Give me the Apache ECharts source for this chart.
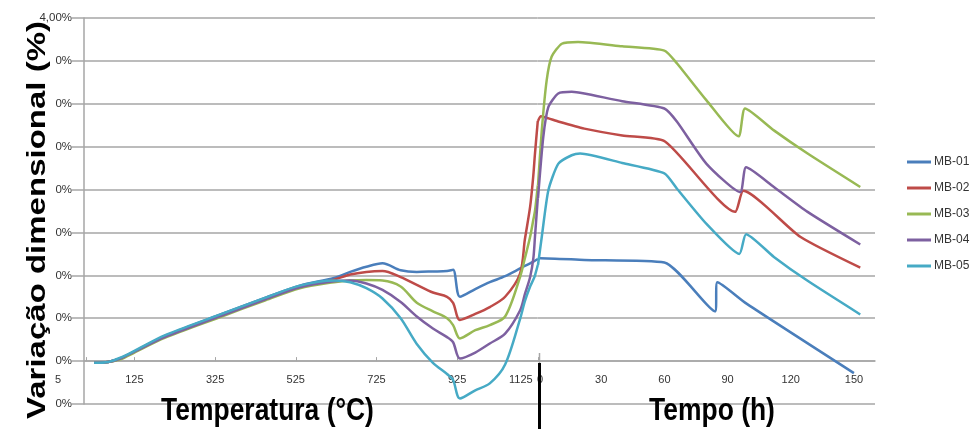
<!DOCTYPE html>
<html>
<head>
<meta charset="utf-8">
<script src="https://cdn.jsdelivr.net/npm/echarts@6/dist/echarts.min.js"></script>
<style>
html,body{margin:0;padding:0;background:#fff;}
#chart{width:970px;height:429px;}
</style>
</head>
<body>
<div id="chart"></div>
<script>
// ---- Data ----
const seriesNames = ['MB-01', 'MB-02', 'MB-03', 'MB-04', 'MB-05'];
const seriesColors = ['#4a7ebb', '#be4b48', '#98b954', '#7d60a0', '#46aac5'];

// Heating part (temperature, °C)
const tempC = [25, 60, 90, 125, 200, 330, 450, 535, 620, 660, 700, 740, 785, 825, 865, 900, 915, 932, 970, 1006, 1044, 1081, 1093, 1106, 1114, 1118, 1125];
const mb01Temp = [-0.02, -0.01, 0.03, 0.11, 0.29, 0.53, 0.74, 0.88, 0.97, 1.04, 1.10, 1.14, 1.06, 1.04, 1.045, 1.05, 1.065, 0.75, 0.84, 0.92, 0.99, 1.08, 1.11, 1.14, 1.16, 1.17, 1.19];
const mb02Temp = [-0.02, -0.01, 0.03, 0.11, 0.29, 0.52, 0.73, 0.86, 0.95, 1.01, 1.04, 1.05, 0.98, 0.89, 0.80, 0.75, 0.68, 0.48, 0.55, 0.63, 0.75, 1.02, 1.42, 1.80, 2.17, 2.42, 2.80];
const mb03Temp = [-0.02, -0.01, 0.02, 0.10, 0.27, 0.50, 0.71, 0.85, 0.92, 0.94, 0.945, 0.94, 0.87, 0.68, 0.58, 0.50, 0.42, 0.265, 0.36, 0.42, 0.52, 0.98, 1.20, 1.45, 1.65, 1.75, 2.05];
const mb04Temp = [-0.02, -0.01, 0.03, 0.11, 0.28, 0.51, 0.72, 0.86, 0.93, 0.94, 0.905, 0.83, 0.69, 0.52, 0.38, 0.28, 0.22, 0.03, 0.10, 0.205, 0.32, 0.59, 0.78, 0.98, 1.20, 1.45, 1.90];
const mb05Temp = [-0.02, -0.01, 0.04, 0.12, 0.30, 0.53, 0.74, 0.88, 0.94, 0.92, 0.85, 0.73, 0.50, 0.20, -0.02, -0.15, -0.22, -0.435, -0.34, -0.26, -0.04, 0.49, 0.70, 0.87, 0.95, 1.00, 1.12];

// Holding part (time, h)
const mb01TimeH = [0, 1, 22, 60, 84, 85.2, 99, 150];
const mb01TimeV = [1.19, 1.20, 1.18, 1.15, 0.58, 0.92, 0.67, -0.14];
const mb02TimeH = [0, 1.4, 5, 10, 22, 40, 60.3, 93.6, 97.5, 124.5, 153];
const mb02TimeV = [2.80, 2.855, 2.83, 2.79, 2.71, 2.63, 2.56, 1.74, 1.985, 1.45, 1.09];
const mb03TimeH = [0, 1.8, 4.1, 6.5, 11.3, 19, 40, 60, 66, 80, 95.2, 98.3, 112, 128, 153];
const mb03TimeV = [2.05, 2.69, 3.27, 3.55, 3.70, 3.72, 3.67, 3.62, 3.47, 3.04, 2.62, 2.945, 2.69, 2.42, 2.03];
const mb04TimeH = [0, 2.5, 4.9, 9.6, 16, 22, 40, 60, 66, 80, 96, 98.8, 112, 128, 153];
const mb04TimeV = [1.90, 2.61, 2.96, 3.12, 3.14, 3.12, 3.03, 2.945, 2.79, 2.30, 1.97, 2.26, 2.03, 1.74, 1.36];
const mb05TimeH = [0, 1.8, 4.9, 9.6, 16, 20, 40, 60, 66, 80, 95.6, 98.8, 112, 128, 153];
const mb05TimeV = [1.12, 1.45, 1.99, 2.30, 2.40, 2.42, 2.31, 2.19, 2.01, 1.60, 1.25, 1.48, 1.215, 0.936, 0.544];

// Tick labels
const tempTicks = [5, 125, 325, 525, 725, 925, 1125];
const timeTicks = [0, 30, 60, 90, 120, 150];
const yTickLabels = ['0%', '0%', '0%', '0%', '0%', '0%', '0%', '0%', '0%', '4,00%'];

// Titles
const yTitle = 'Variação dimensional (%)';
const xTitleTemp = 'Temperatura (°C)';
const xTitleTime = 'Tempo (h)';

// ---- Build ----
const tempSets = [mb01Temp, mb02Temp, mb03Temp, mb04Temp, mb05Temp];
const timeH = [mb01TimeH, mb02TimeH, mb03TimeH, mb04TimeH, mb05TimeH];
const timeV = [mb01TimeV, mb02TimeV, mb03TimeV, mb04TimeV, mb05TimeV];

const gridColor = '#a6a6a6';
const labelColor = '#333333';
const FONT = '"Liberation Sans", Arial, sans-serif';
const Y_MIN = -0.5, Y_MAX = 4, GRID_TOP = 18, GRID_H = 386;
// shift the x axes from the grid bottom up to the zero line
const zeroOffset = -GRID_H * (0 - Y_MIN) / (Y_MAX - Y_MIN);

const series = [];
seriesNames.forEach((name, i) => {
  series.push({
    name: name, type: 'line', xAxisIndex: 0, yAxisIndex: 0,
    data: tempC.map((t, k) => [t, tempSets[i][k]]),
    showSymbol: false, symbol: 'none', smooth: 0.3,
    lineStyle: { color: seriesColors[i], width: 2.5 }, itemStyle: { color: seriesColors[i] },
    z: 2 + i
  });
});
seriesNames.forEach((name, i) => {
  series.push({
    name: name, type: 'line', xAxisIndex: 1, yAxisIndex: 1,
    data: timeH[i].map((h, k) => [h, timeV[i][k]]),
    showSymbol: false, symbol: 'none', smooth: 0.2,
    lineStyle: { color: seriesColors[i], width: 2.5 }, itemStyle: { color: seriesColors[i] },
    z: 2 + i
  });
});

const yAxisBase = {
  type: 'value', min: Y_MIN, max: Y_MAX, interval: 0.5,
  splitLine: { show: true, lineStyle: { color: gridColor, width: 1.5 } }
};

const chart = echarts.init(document.getElementById('chart'), null, { renderer: 'canvas' });
chart.setOption({
  animation: false,
  backgroundColor: '#ffffff',
  grid: [
    { left: 84, top: GRID_TOP, width: 453.8, height: GRID_H },
    { left: 538, top: GRID_TOP, width: 337, height: GRID_H }
  ],
  xAxis: [
    {
      type: 'value', gridIndex: 0, min: 0, max: 1125, position: 'bottom', offset: zeroOffset,
      axisLine: { onZero: false, lineStyle: { color: gridColor, width: 1.5 } },
      axisTick: { show: true, inside: true, length: 4, customValues: tempTicks, lineStyle: { color: gridColor } },
      splitLine: { show: false },
      axisLabel: {
        customValues: tempTicks, margin: 13, color: labelColor, fontSize: 11, fontFamily: FONT,
        formatter: function (v) {
          if (v === tempTicks[0]) return '{l|' + v + '}';
          if (v === tempTicks[tempTicks.length - 1]) return '{r|' + v + '}';
          return String(v);
        },
        rich: {
          l: { padding: [0, 56, 0, 0], color: labelColor, fontSize: 11, fontFamily: FONT },
          r: { padding: [0, 34, 0, 0], color: labelColor, fontSize: 11, fontFamily: FONT }
        }
      }
    },
    {
      type: 'value', gridIndex: 1, min: 0, max: 160, position: 'bottom', offset: zeroOffset,
      axisLine: { onZero: false, lineStyle: { color: gridColor, width: 1.5 } },
      axisTick: { show: false },
      splitLine: { show: false },
      axisLabel: {
        customValues: timeTicks, margin: 13, color: labelColor, fontSize: 11, fontFamily: FONT,
        formatter: function (v) { return v === 0 ? '{z|0}' : String(v); },
        rich: { z: { padding: [0, 0, 0, 4], color: labelColor, fontSize: 11, fontFamily: FONT } }
      }
    }
  ],
  yAxis: [
    Object.assign({}, yAxisBase, {
      gridIndex: 0,
      axisLine: { show: true, onZero: false, lineStyle: { color: gridColor, width: 1.5 } },
      axisTick: { show: true, length: 12, lineStyle: { color: gridColor, width: 1.5 } },
      axisLabel: {
        margin: 12, color: labelColor, fontSize: 11.5, fontFamily: FONT,
        formatter: function (v) { return yTickLabels[Math.round((v - Y_MIN) / 0.5)]; }
      }
    }),
    Object.assign({}, yAxisBase, {
      gridIndex: 1,
      axisLine: { show: false }, axisTick: { show: false }, axisLabel: { show: false }
    })
  ],
  legend: {
    orient: 'vertical', left: 907, top: 155, padding: 0,
    itemWidth: 24, itemHeight: 3, itemGap: 12, icon: 'rect',
    data: seriesNames.map((n, i) => ({ name: n, itemStyle: { color: seriesColors[i] } })),
    textStyle: { color: labelColor, fontSize: 12, fontFamily: FONT, lineHeight: 14, padding: [0, 0, 0, -2] }
  },
  graphic: [
    {
      type: 'line', z: 100,
      shape: { x1: 539.5, y1: 353, x2: 539.5, y2: 363 },
      style: { stroke: gridColor, lineWidth: 1.5 }
    },
    {
      type: 'line', z: 100,
      shape: { x1: 539.5, y1: 363, x2: 539.5, y2: 429 },
      style: { stroke: '#000', lineWidth: 3 }
    },
    {
      type: 'text', x: 267.5, y: 411, scaleX: 0.853, z: 100,
      style: { text: xTitleTemp, font: 'bold 31px ' + FONT, fill: '#000', textAlign: 'center', textVerticalAlign: 'middle' }
    },
    {
      type: 'text', x: 712, y: 411, scaleX: 0.853, z: 100,
      style: { text: xTitleTime, font: 'bold 31px ' + FONT, fill: '#000', textAlign: 'center', textVerticalAlign: 'middle' }
    },
    {
      type: 'text', x: 37.5, y: 220, rotation: Math.PI / 2, scaleY: 0.78, z: 100,
      style: { text: yTitle, font: 'bold 33px ' + FONT, fill: '#000', textAlign: 'center', textVerticalAlign: 'middle' }
    }
  ],
  series: series
});
</script>
</body>
</html>
